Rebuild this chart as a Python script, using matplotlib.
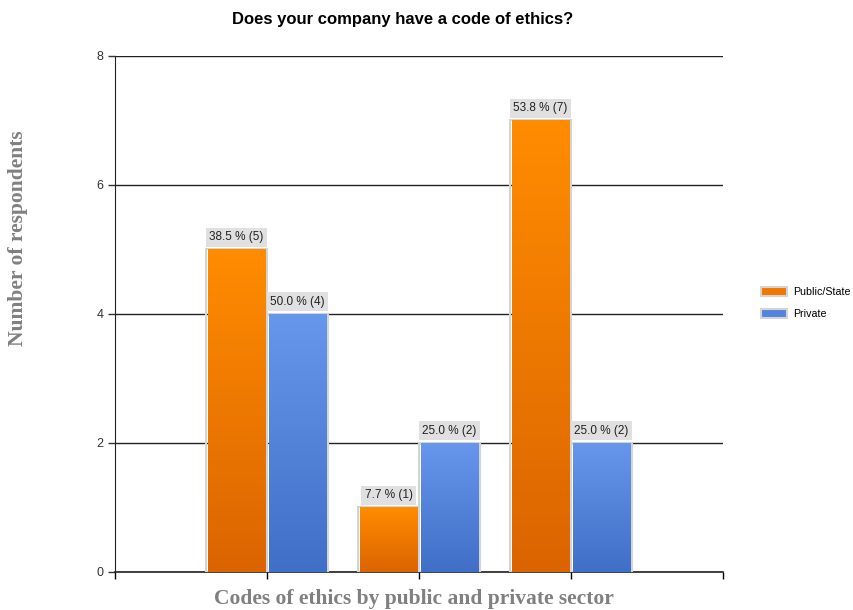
import numpy as np
import matplotlib.pyplot as plt
from matplotlib.colors import LinearSegmentedColormap
from matplotlib.patches import Patch

groups = [1, 2, 3]
public_counts = [5, 1, 7]
private_counts = [4, 2, 2]
public_pct = [38.5, 7.7, 53.8]
private_pct = [50.0, 25.0, 25.0]
series_names = ["Public/State", "Private"]

plt.rcParams['font.family'] = ['Liberation Sans', 'DejaVu Sans']

fig = plt.figure(figsize=(8.54, 6.1), dpi=100)
ax = fig.add_axes([0.1347, 0.0623, 0.7119, 0.8459])

orange_map = LinearSegmentedColormap.from_list("orange", ["#dc6400", "#ff8c00"])
blue_map = LinearSegmentedColormap.from_list("blue", ["#3f6fc6", "#6697ec"])

width = 0.4
grad = np.linspace(0, 1, 256).reshape(-1, 1)


def draw_bars(xs, vals, pcts, cmap):
    for x, v, p in zip(xs, vals, pcts):
        # light border, then a vertical gradient fill
        ax.bar(x, v, width=width, color="none", edgecolor="#d4d4d4",
               linewidth=1.5, zorder=3)
        ax.imshow(grad, cmap=cmap, aspect="auto", origin="lower",
                  extent=(x - width / 2 + 0.01, x + width / 2 - 0.01, 0, v),
                  zorder=4)
        ax.text(x, v + 0.1, "{:.1f} % ({})".format(p, v), ha="center",
                va="bottom", fontsize=8.5, color="#222222", zorder=5,
                bbox=dict(boxstyle="square,pad=0.3", fc="#e0e0e0",
                          ec="none"))


xs = np.array(groups)
draw_bars(xs - width / 2, public_counts, public_pct, orange_map)
draw_bars(xs + width / 2, private_counts, private_pct, blue_map)

ax.set_xlim(0, 4)
ax.set_ylim(0, 8)
ax.set_xticks([0, 1, 2, 3, 4])
ax.set_xticklabels([])
ax.set_yticks([0, 2, 4, 6, 8])
ax.tick_params(axis="y", labelsize=9, length=5, width=1, colors="#333333")
ax.tick_params(axis="x", length=5, width=1, direction="out")
ax.grid(axis="y", color="#222222", linewidth=1, zorder=0)
ax.set_axisbelow(True)
for side in ["top", "right"]:
    ax.spines[side].set_visible(False)
ax.spines["left"].set_color("#222222")
ax.spines["bottom"].set_color("#222222")
ax.spines["bottom"].set_linewidth(1.2)

fig.text(0.472, 0.968, "Does your company have a code of ethics?",
         ha="center", va="center", fontsize=12, fontweight="bold")
fig.text(0.021, 0.61, "Number of respondents", rotation=90, ha="center",
         va="center", fontsize=15.5, fontweight="bold", color="#808080",
         family=["Liberation Serif", "DejaVu Serif"])
fig.text(0.485, 0.018, "Codes of ethics by public and private sector",
         ha="center", va="center", fontsize=15.5, fontweight="bold",
         color="#808080", family=["Liberation Serif", "DejaVu Serif"])

handles = [Patch(facecolor="#f07800", edgecolor="#d4d4d4", linewidth=1.5),
           Patch(facecolor="#5485dc", edgecolor="#d4d4d4", linewidth=1.5)]
fig.legend(handles, series_names, loc="center left",
           bbox_to_anchor=(0.889, 0.503), frameon=False, fontsize=7.7,
           handlelength=2.4, handleheight=0.9, handletextpad=0.55,
           labelspacing=1.1, borderpad=0.2, borderaxespad=0)

fig.savefig("out.png", dpi=100)
